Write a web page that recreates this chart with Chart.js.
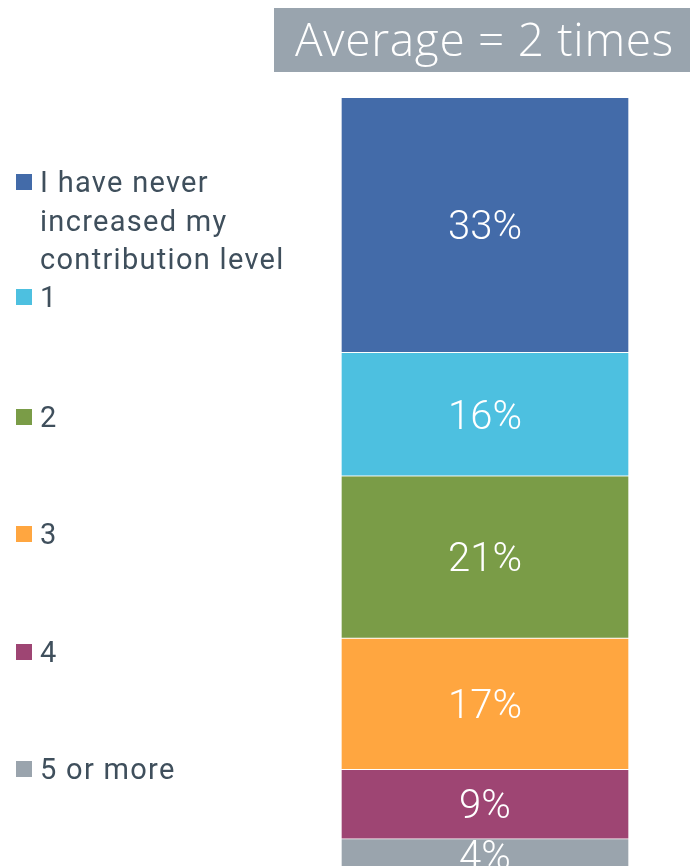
<!DOCTYPE html>
<html><head><meta charset="utf-8">
<script src="https://cdn.jsdelivr.net/npm/chart.js@4"></script>
<style>
html,body{margin:0;padding:0;overflow:hidden;background:#fff;}
#wrap{position:relative;width:690px;height:880px;}
</style></head>
<body>
<div id="wrap"><canvas id="c" width="690" height="880"></canvas></div>
<script>
const categories = ["All"];
const seriesNames = ["I have never increased my contribution level", "1", "2", "3", "4", "5 or more"];
const legendLines = [["I have never", "increased my", "contribution level"], ["1"], ["2"], ["3"], ["4"], ["5 or more"]];
const seriesValues = [33, 16, 21, 17, 9, 4];
const seriesColors = ["#436BA9", "#4DC0E0", "#7A9C47", "#FFA640", "#9E4573", "#9AA4AD"];
const titleText = "Average = 2 times";

const overlay = {
  id: 'overlay',
  afterDatasetsDraw(chart) {
    const ctx = chart.ctx;
    ctx.save();
    // value labels
    ctx.fillStyle = '#fff';
    ctx.font = '300 40px Roboto';
    ctx.textAlign = 'center';
    ctx.textBaseline = 'middle';
    chart.data.datasets.forEach((ds, i) => {
      const el = chart.getDatasetMeta(i).data[0];
      const top = Math.min(el.y, el.base), bot = Math.max(el.y, el.base);
      ctx.fillText(ds.data[0] + '%', el.x, (top + bot) / 2 + 4);
    });
    // title box
    ctx.fillStyle = '#99A4AE';
    ctx.fillRect(274, 8, 416, 64);
    ctx.fillStyle = '#fff';
    ctx.font = '300 46px "Open Sans"';
    ctx.letterSpacing = '0.7px';
    ctx.textAlign = 'left';
    ctx.textBaseline = 'alphabetic';
    ctx.fillText(titleText, 295, 56);
    // legend
    const baselines = [192, 307, 427, 544, 662, 779];
    ctx.font = '29px Roboto';
    ctx.letterSpacing = '1.3px';
    legendLines.forEach((lines, i) => {
      const b = baselines[i];
      ctx.fillStyle = seriesColors[i];
      ctx.fillRect(16, b - 18, 16, 16);
      ctx.fillStyle = '#3F4F5C';
      lines.forEach((ln, j) => ctx.fillText(ln, 40, b + j * 38.5));
    });
    ctx.restore();
  }
};

new Chart(document.getElementById('c'), {
  type: 'bar',
  data: {
    labels: categories,
    datasets: seriesValues.map((v, i) => ({
      label: seriesNames[i],
      data: [v],
      backgroundColor: seriesColors[i],
      borderColor: '#ffffff',
      borderWidth: 1,
      categoryPercentage: 1,
      barPercentage: 1
    }))
  },
  options: {
    responsive: false,
    animation: false,
    layout: { padding: { left: 341, right: 61, top: 98, bottom: 10 } },
    plugins: { legend: { display: false }, tooltip: { enabled: false }, title: { display: false } },
    scales: {
      x: { stacked: true, display: false },
      y: { stacked: true, display: false, reverse: true, min: 0, max: 100 }
    }
  },
  plugins: [overlay]
});
</script>
</body></html>
